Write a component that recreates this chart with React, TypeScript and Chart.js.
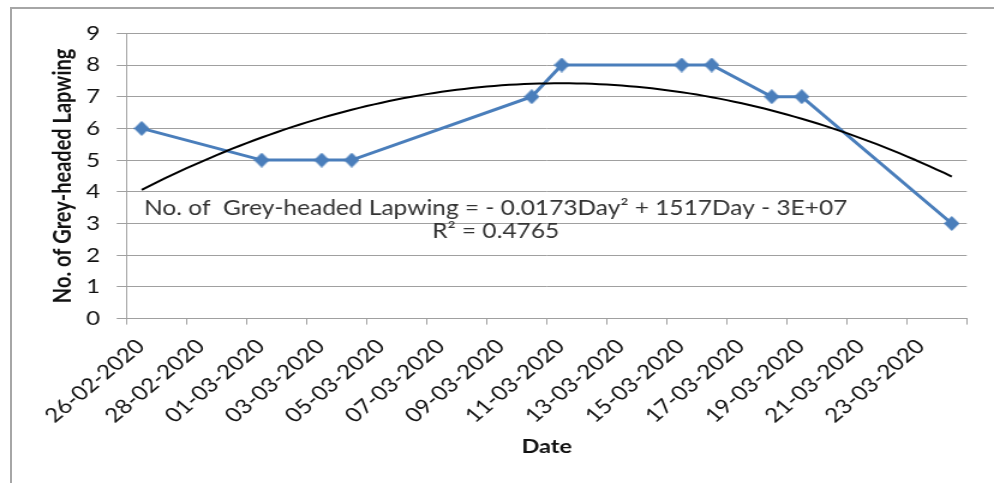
import React, { useEffect, useRef } from 'react';
import { Chart, registerables } from 'chart.js';

Chart.register(...registerables);

// ---- data ----
const observationDates = [
  '26-02-2020', '01-03-2020', '03-03-2020', '04-03-2020', '10-03-2020', '11-03-2020',
  '15-03-2020', '16-03-2020', '18-03-2020', '19-03-2020', '24-03-2020',
];
const lapwingCounts = [6, 5, 5, 5, 7, 8, 8, 8, 7, 7, 3];
const dateTickLabels = [
  '26-02-2020', '28-02-2020', '01-03-2020', '03-03-2020', '05-03-2020', '07-03-2020', '09-03-2020',
  '11-03-2020', '13-03-2020', '15-03-2020', '17-03-2020', '19-03-2020', '21-03-2020', '23-03-2020',
];
const countTicks = [0, 1, 2, 3, 4, 5, 6, 7, 8, 9];
const xAxisTitle = 'Date';
const yAxisTitle = 'No. of Grey-headed Lapwing';
const trendEquation = 'No. of  Grey-headed Lapwing = - 0.0173Day\u00B2 + 1517Day - 3E+07';
const trendR2 = 'R\u00B2 = 0.4765';

// ---- helpers ----
const toDayNumber = (s: string) => {
  const [d, m, y] = s.split('-').map(Number);
  return Math.round(Date.UTC(y, m - 1, d) / 86400000);
};
const baseDay = toDayNumber(observationDates[0]);
const dayIndex = observationDates.map((s) => toDayNumber(s) - baseDay);
const lastDay = dayIndex[dayIndex.length - 1];

// least-squares quadratic (the Excel polynomial trendline of order 2)
function fitQuadratic(xs: number[], ys: number[]) {
  const s = [0, 0, 0, 0, 0];
  const t = [0, 0, 0];
  xs.forEach((x, i) => {
    for (let k = 0; k < 5; k++) s[k] += Math.pow(x, k);
    for (let k = 0; k < 3; k++) t[k] += Math.pow(x, k) * ys[i];
  });
  const M = [
    [s[0], s[1], s[2], t[0]],
    [s[1], s[2], s[3], t[1]],
    [s[2], s[3], s[4], t[2]],
  ];
  for (let c = 0; c < 3; c++) {
    for (let r = c + 1; r < 3; r++) {
      const f = M[r][c] / M[c][c];
      for (let k = c; k < 4; k++) M[r][k] -= f * M[c][k];
    }
  }
  const sol = [0, 0, 0];
  for (let r = 2; r >= 0; r--) {
    let v = M[r][3];
    for (let k = r + 1; k < 3; k++) v -= M[r][k] * sol[k];
    sol[r] = v / M[r][r];
  }
  return sol; // [c0, c1, c2]
}

// the reference picture is stretched horizontally; render narrower and stretch with CSS
const CANVAS_W = 828;
const CANVAS_H = 483;
const FONT = 'Lato, "Noto Sans", sans-serif';

const trendLabelPlugin = {
  id: 'trendLabel',
  afterDatasetsDraw(chart: any) {
    const { ctx, scales } = chart;
    const x = scales.x.getPixelForValue(11.8);
    ctx.save();
    ctx.font = `20.4px ${FONT}`;
    ctx.fillStyle = '#333333';
    ctx.textAlign = 'center';
    ctx.textBaseline = 'alphabetic';
    ctx.fillText(trendEquation, x, scales.y.getPixelForValue(3.28));
    ctx.fillText(trendR2, x, scales.y.getPixelForValue(2.54));
    ctx.restore();
  },
};

export default function App() {
  const ref = useRef<HTMLCanvasElement>(null);

  useEffect(() => {
    const canvas = ref.current;
    if (!canvas) return;

    const marker = document.createElement('canvas');
    marker.width = 13;
    marker.height = 15;
    const mctx = marker.getContext('2d');
    if (mctx) {
      mctx.fillStyle = '#4a7ebb';
      mctx.beginPath();
      mctx.moveTo(6.5, 0);
      mctx.lineTo(13, 7.5);
      mctx.lineTo(6.5, 15);
      mctx.lineTo(0, 7.5);
      mctx.closePath();
      mctx.fill();
    }

    const [c0, c1, c2] = fitQuadratic(dayIndex, lapwingCounts);
    const trendPoints: { x: number; y: number }[] = [];
    for (let i = dayIndex[0] * 4; i <= lastDay * 4; i++) {
      const x = i / 4;
      trendPoints.push({ x, y: c0 + c1 * x + c2 * x * x });
    }

    const gridColor = '#a0a0a0';
    const textColor = '#111111';

    const chart = new Chart(canvas, {
      type: 'line',
      data: {
        datasets: [
          {
            label: 'Trend',
            data: trendPoints,
            borderColor: '#000000',
            borderWidth: 2,
            pointRadius: 0,
            pointHoverRadius: 0,
            fill: false,
            tension: 0,
          },
          {
            label: yAxisTitle,
            data: dayIndex.map((x, i) => ({ x, y: lapwingCounts[i] })),
            borderColor: '#4a7ebb',
            backgroundColor: '#4a7ebb',
            borderWidth: 3,
            pointStyle: marker as any,
            pointRadius: 7,
            fill: false,
            tension: 0,
          },
        ],
      },
      options: {
        responsive: false,
        animation: false,
        devicePixelRatio: 1,
        events: [],
        layout: { padding: { left: 0, right: 22.7, top: 33.3, bottom: 20 } },
        plugins: { legend: { display: false }, tooltip: { enabled: false } },
        scales: {
          x: {
            type: 'linear',
            min: -0.5,
            max: lastDay + 0.5,
            afterBuildTicks: (scale: any) => {
              const ticks = [];
              for (let v = -0.5; v <= lastDay + 0.5 + 1e-9; v += 2) ticks.push({ value: v });
              scale.ticks = ticks;
            },
            afterFit: (scale: any) => {
              scale.height = CANVAS_H - 20 - 318.6;
              scale.paddingLeft = 0;
              scale.paddingRight = 0;
            },
            ticks: {
              autoSkip: false,
              maxRotation: 45,
              minRotation: 45,
              labelOffset: 11.6,
              padding: 10,
              color: textColor,
              font: { family: FONT, size: 20 },
              callback: (value: any) => {
                const idx = Math.round((Number(value) + 0.5) / 2);
                return dateTickLabels[idx] ?? '';
              },
            },
            grid: { drawOnChartArea: false, tickLength: 6, color: gridColor },
            border: { color: gridColor },
            title: {
              display: true,
              text: xAxisTitle,
              color: textColor,
              font: { family: FONT, size: 19.5, weight: 'bold' },
              padding: { top: 0, bottom: 4.6 },
            },
          },
          y: {
            min: 0,
            max: 9,
            afterBuildTicks: (scale: any) => {
              scale.ticks = countTicks.map((v) => ({ value: v }));
            },
            afterFit: (scale: any) => {
              scale.width = 105.5;
            },
            ticks: {
              padding: 13.9,
              color: textColor,
              font: { family: FONT, size: 20 },
            },
            grid: { color: gridColor, tickLength: 8.3 },
            border: { color: gridColor },
            title: {
              display: true,
              text: yAxisTitle,
              color: textColor,
              font: { family: FONT, size: 20, weight: 'bold' },
              padding: { top: 40.5, bottom: 0 },
            },
          },
        },
      },
      plugins: [trendLabelPlugin],
    } as any);

    return () => chart.destroy();
  }, []);

  return (
    <div
      style={{
        position: 'fixed',
        left: 0,
        top: 0,
        width: 994,
        height: 483,
        overflow: 'hidden',
        background: '#ffffff',
      }}
    >
      <div
        style={{
          position: 'absolute',
          left: 10,
          top: 7,
          width: 2000,
          height: 2000,
          borderLeft: '2px solid #a6a6a6',
          borderTop: '2px solid #a6a6a6',
        }}
      />
      <canvas
        ref={ref}
        width={CANVAS_W}
        height={CANVAS_H}
        style={{ position: 'absolute', left: 0, top: 0, width: '994px', height: '483px' }}
      />
    </div>
  );
}
